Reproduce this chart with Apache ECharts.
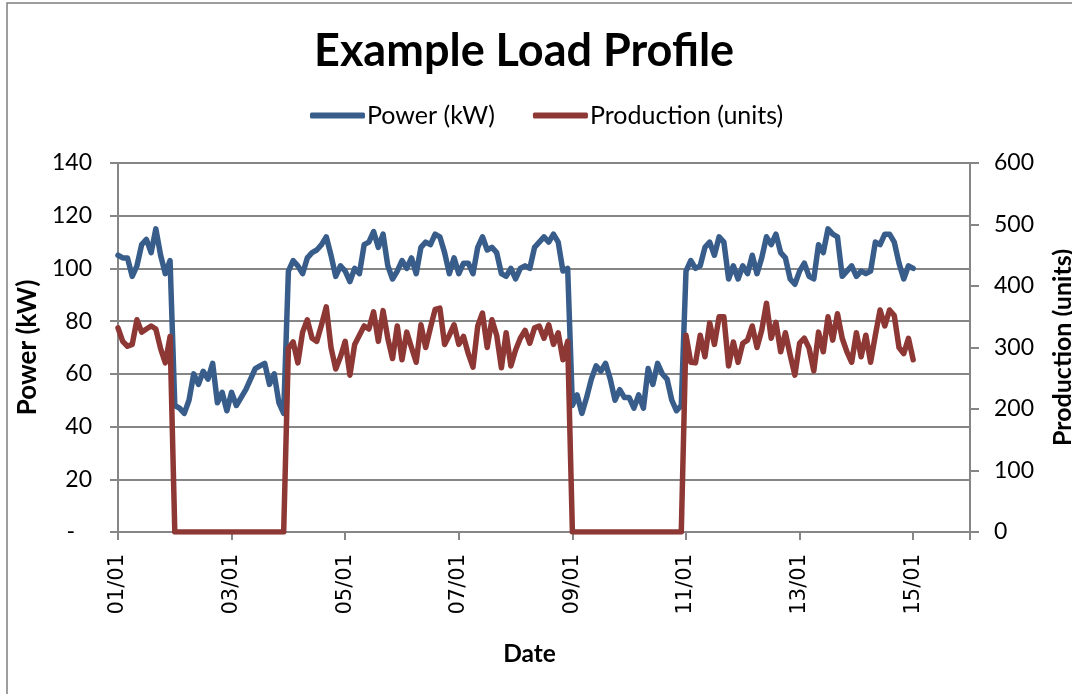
<!DOCTYPE html>
<html>
<head>
<meta charset="utf-8">
<script src="https://cdn.jsdelivr.net/npm/echarts@6/dist/echarts.min.js"></script>
<style>
html,body{margin:0;padding:0;background:#fff;}
#chart{width:1072px;height:694px;}
</style>
</head>
<body>
<div id="chart"></div>
<script>
// Sampling: 12 readings per day (every 2 hours), starting 01/01 00:00
const samplesPerDay = 12;
const tickLabels = ['01/01','03/01','05/01','07/01','09/01','11/01','13/01','15/01'];

// Power (kW), one row per day
const powerDay00 = [105,104,104,97,101,109,111,106,115,105,98,103];
const powerDay01 = [48,47,45,50,60,56,61,58,64,49,53,46];
const powerDay02 = [53,48,51,54,58,62,63,64,56,60,49,45];
const powerDay03 = [99,103,101,98,104,106,107,109,112,105,97,101];
const powerDay04 = [99,95,100,98,109,110,114,108,113,101,96,99];
const powerDay05 = [103,100,104,98,108,110,109,113,112,106,98,104];
const powerDay06 = [98,102,102,98,108,112,107,108,106,98,97,100];
const powerDay07 = [96,100,101,100,108,110,112,110,113,110,99,100];
const powerDay08 = [48,52,45,51,58,63,61,64,58,50,54,51];
const powerDay09 = [51,47,52,47,62,56,64,60,58,50,46,48];
const powerDay10 = [99,103,100,101,108,110,105,112,110,96,101,96];
const powerDay11 = [101,98,105,98,104,112,109,113,106,104,96,94];
const powerDay12 = [99,102,97,96,109,106,115,113,112,97,99,101];
const powerDay13 = [97,99,98,99,110,109,113,113,110,102,96,101];
const powerDay14 = [100];

// Production (units), one row per day
const prodDay00 = [332,310,302,305,345,325,330,335,330,298,275,318];
const prodDay01 = [0,0,0,0,0,0,0,0,0,0,0,0];
const prodDay02 = [0,0,0,0,0,0,0,0,0,0,0,0];
const prodDay03 = [299,309,275,325,345,315,310,337,366,300,265,285];
const prodDay04 = [310,255,305,320,335,330,358,310,360,315,282,335];
const prodDay05 = [280,325,300,276,337,300,332,362,364,305,320,337];
const prodDay06 = [305,318,290,268,335,356,300,345,320,267,324,270];
const prodDay07 = [296,315,328,307,332,335,315,337,305,324,280,310];
const prodDay08 = [0,0,0,0,0,0,0,0,0,0,0,0];
const prodDay09 = [0,0,0,0,0,0,0,0,0,0,0,0];
const prodDay10 = [320,276,275,320,285,340,305,350,350,270,309,276];
const prodDay11 = [307,312,335,300,328,372,315,341,293,324,288,255];
const prodDay12 = [307,315,299,262,325,293,350,312,355,315,293,276];
const prodDay13 = [324,285,320,276,320,361,335,361,352,300,290,315];
const prodDay14 = [280];

const power = [].concat(powerDay00,powerDay01,powerDay02,powerDay03,powerDay04,powerDay05,powerDay06,
  powerDay07,powerDay08,powerDay09,powerDay10,powerDay11,powerDay12,powerDay13,powerDay14);
const production = [].concat(prodDay00,prodDay01,prodDay02,prodDay03,prodDay04,prodDay05,prodDay06,
  prodDay07,prodDay08,prodDay09,prodDay10,prodDay11,prodDay12,prodDay13,prodDay14);

const toPairs = arr => arr.map((v, i) => [i / samplesPerDay, v]);

const FONT = 'Lato';
const GRID_COLOR = '#868686';

const chart = echarts.init(document.getElementById('chart'), null, {renderer: 'canvas'});
chart.setOption({
  backgroundColor: '#ffffff',
  animation: false,
  title: {
    text: 'Example Load Profile',
    left: 314,
    top: 29,
    padding: 0,
    textStyle: {fontFamily: FONT, fontWeight: 'bold', fontSize: 45, color: '#000'}
  },
  legend: {
    left: 310,
    top: 103,
    padding: 0,
    itemWidth: 55,
    itemHeight: 6,
    itemGap: 38,
    icon: 'roundRect',
    textStyle: {fontFamily: FONT, fontSize: 25, color: '#000', padding: [0, 0, 0, -3]},
    data: ['Power (kW)', 'Production (units)']
  },
  graphic: [{
    type: 'rect',
    shape: {x: 7, y: 3, width: 1200, height: 900},
    style: {fill: 'none', stroke: '#7f7f7f', lineWidth: 1.5},
    silent: true
  }],
  grid: {left: 118, right: 102, top: 163, bottom: 162, containLabel: false, outerBoundsMode: 'none'},
  xAxis: {
    type: 'value',
    min: 0,
    max: 15,
    interval: 2,
    name: 'Date',
    nameLocation: 'middle',
    nameGap: 110,
    nameTextStyle: {fontFamily: FONT, fontWeight: 'bold', fontSize: 24.5, color: '#000', padding: [0, 29, 0, 0]},
    axisLine: {show: true, lineStyle: {color: GRID_COLOR, width: 2}},
    axisTick: {show: true, length: 8, lineStyle: {color: GRID_COLOR, width: 2}},
    splitLine: {show: false},
    axisLabel: {
      rotate: 90,
      margin: 22,
      fontFamily: 'DejaVu Sans',
      fontSize: 21,
      color: '#000',
      formatter: v => (v % 2 === 0 && tickLabels[v / 2] !== undefined) ? tickLabels[v / 2] : ''
    }
  },
  yAxis: [{
    type: 'value',
    min: 0,
    max: 140,
    interval: 20,
    name: 'Power (kW)',
    nameLocation: 'middle',
    nameGap: 73,
    nameTextStyle: {fontFamily: FONT, fontWeight: 'bold', fontSize: 26, color: '#000'},
    axisLine: {show: true, lineStyle: {color: GRID_COLOR, width: 2}},
    axisTick: {show: true, length: 8, lineStyle: {color: GRID_COLOR, width: 2}},
    splitLine: {show: true, lineStyle: {color: GRID_COLOR, width: 2}},
    axisLabel: {
      margin: 26,
      fontFamily: FONT,
      fontSize: 23,
      color: '#000',
      formatter: v => v === 0 ? '{d|-}' : String(v),
      rich: {d: {fontFamily: FONT, fontSize: 23, color: '#000', padding: [0, 17, 0, 0]}}
    }
  }, {
    type: 'value',
    position: 'right',
    min: 0,
    max: 600,
    interval: 100,
    name: 'Production (units)',
    nameLocation: 'middle',
    nameGap: 80,
    nameTextStyle: {fontFamily: FONT, fontWeight: 'bold', fontSize: 25, color: '#000'},
    axisLine: {show: true, lineStyle: {color: GRID_COLOR, width: 2}},
    axisTick: {show: true, length: 9, lineStyle: {color: GRID_COLOR, width: 2}},
    splitLine: {show: false},
    axisLabel: {margin: 24, fontFamily: FONT, fontSize: 23, color: '#000'}
  }],
  series: [{
    name: 'Power (kW)',
    type: 'line',
    yAxisIndex: 0,
    showSymbol: false,
    symbol: 'none',
    color: '#385D8A',
    lineStyle: {color: '#385D8A', width: 5.5, cap: 'round', join: 'round'},
    data: toPairs(power)
  }, {
    name: 'Production (units)',
    type: 'line',
    yAxisIndex: 1,
    showSymbol: false,
    symbol: 'none',
    color: '#8E3835',
    lineStyle: {color: '#8E3835', width: 5.5, cap: 'round', join: 'round'},
    data: toPairs(production)
  }]
});
</script>
</body>
</html>
